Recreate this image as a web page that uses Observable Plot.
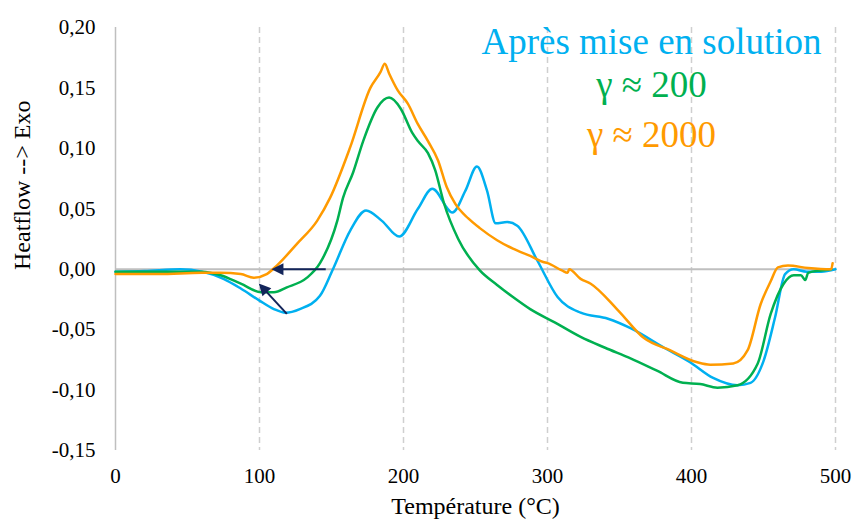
<!DOCTYPE html>
<html><head><meta charset="utf-8">
<script src="https://cdn.jsdelivr.net/npm/d3@7"></script>
<script src="https://cdn.jsdelivr.net/npm/@observablehq/plot@0.6"></script>
<style>body{margin:0;background:#fff}svg{display:block}svg text{font-family:"Liberation Serif","Times New Roman",serif}</style>
</head><body><div id="chart"></div>
<script>
const xTicks = [0, 100, 200, 300, 400, 500];
const yTicks = [-0.15, -0.10, -0.05, 0, 0.05, 0.10, 0.15, 0.20];
const gridX = [100, 200, 300, 400, 500];

const blueT = [0, 20, 45, 60, 75, 87, 100, 110, 118, 128, 142, 151, 163, 174, 185, 197, 210, 220, 234, 243, 251, 258, 264, 272, 279, 293, 307, 323, 342, 358, 381, 399, 415, 432, 441, 450, 458, 465, 471, 480, 490, 500];
const blueH = [-0.002, -0.0015, 0.0, -0.002, -0.008, -0.016, -0.026, -0.033, -0.036, -0.033, -0.022, 0.0, 0.032, 0.0486, 0.040, 0.027, 0.050, 0.0666, 0.047, 0.065, 0.085, 0.065, 0.038, 0.039, 0.036, 0.007, -0.023, -0.036, -0.041, -0.049, -0.065, -0.077, -0.090, -0.096, -0.094, -0.076, -0.040, -0.004, 0.0, -0.002, -0.002, 0.0];

const greenT = [0, 30, 60, 73, 87, 101, 110, 119, 133, 142, 154, 158, 165, 172, 182, 190, 198, 206, 210, 217, 222, 228, 238, 253, 265, 276, 288, 305, 323, 340, 358, 376, 394, 406, 418, 432, 446, 455, 464, 471, 476, 479, 481, 490, 497];
const greenH = [-0.002, -0.002, -0.002, -0.005, -0.012, -0.019, -0.019, -0.015, -0.007, 0.005, 0.040, 0.059, 0.080, 0.106, 0.134, 0.142, 0.133, 0.113, 0.106, 0.096, 0.082, 0.055, 0.025, -0.001, -0.013, -0.023, -0.033, -0.044, -0.056, -0.065, -0.074, -0.084, -0.094, -0.095, -0.098, -0.096, -0.078, -0.037, -0.012, -0.005, -0.005, -0.009, -0.003, -0.001, 0.0];

const orangeT = [0, 30, 60, 73, 87, 96, 105, 112, 126, 140, 149, 163, 177, 184, 187, 190, 196, 203, 210, 217, 224, 230, 236, 245, 253, 265, 276, 288, 297, 300, 310, 314, 315, 323, 330, 349, 367, 385, 404, 413, 429, 439, 448, 455, 460, 467, 481, 497, 498];
const orangeH = [-0.004, -0.004, -0.003, -0.003, -0.004, -0.007, -0.004, 0.003, 0.021, 0.040, 0.059, 0.101, 0.150, 0.163, 0.170, 0.162, 0.148, 0.137, 0.120, 0.106, 0.090, 0.068, 0.054, 0.042, 0.034, 0.024, 0.017, 0.011, 0.006, 0.005, -0.001, -0.003, 0.000, -0.008, -0.012, -0.034, -0.057, -0.067, -0.077, -0.079, -0.078, -0.067, -0.029, -0.010, 0.0015, 0.003, 0.001, 0.0, 0.005];

const arrowX1 = [146, 119];
const arrowY1 = [0, -0.037];
const arrowX2 = [112, 102];
const arrowY2 = [0, -0.015];

const legendLabels = ["Après mise en solution", "γ ≈ 200", "γ ≈ 2000"];
const colors = ["#00B0F0", "#00B050", "#FF9A00"];
const arrowColor = "#13255A";

const toPts = (T, H) => T.map((t, i) => ({x: t, y: H[i]}));
const blue = toPts(blueT, blueH);
const green = toPts(greenT, greenH);
const orange = toPts(orangeT, orangeH);
const arrows = arrowX1.map((x1, i) => ({x1, y1: arrowY1[i], x2: arrowX2[i], y2: arrowY2[i]}));
const fmt = d => d.toFixed(2).replace(".", ",");
const font = "Liberation Serif";

const chart = Plot.plot({
  width: 857, height: 527,
  marginLeft: 115, marginRight: 22, marginTop: 27, marginBottom: 77,
  style: {fontFamily: "'Liberation Serif', serif", fontSize: "21px", color: "#000", background: "#fff"},
  x: {domain: [0, 500]},
  y: {domain: [-0.15, 0.20]},
  marks: [
    Plot.ruleX(gridX, {stroke: "#cfcfcf", strokeWidth: 1.5, strokeDasharray: "6,4"}),
    Plot.ruleX([0], {stroke: "#bfbfbf", strokeWidth: 1.5}),
    Plot.ruleY([0], {stroke: "#bfbfbf", strokeWidth: 2}),
    Plot.axisX(xTicks, {tickSize: 0, tickPadding: 18, tickFormat: d => String(d), fontSize: 21, label: null}),
    Plot.axisY(yTicks, {tickSize: 0, tickPadding: 20, tickFormat: fmt, fontSize: 21, label: null}),
    Plot.line(blue, {x: "x", y: "y", stroke: colors[0], strokeWidth: 2.5, curve: "monotone-x"}),
    Plot.line(green, {x: "x", y: "y", stroke: colors[1], strokeWidth: 2.5, curve: "monotone-x"}),
    Plot.line(orange, {x: "x", y: "y", stroke: colors[2], strokeWidth: 2.5, curve: "monotone-x"}),
    Plot.link(arrows, {x1: "x1", y1: "y1", x2: "x2", y2: "y2", stroke: arrowColor, strokeWidth: 2, markerEnd: "arrow"}),
    Plot.text([legendLabels[0]], {frameAnchor: "top", dx: 176, dy: 0, text: d => d, fill: colors[0], fontSize: 37, textAnchor: "middle", fontFamily: font}),
    Plot.text([legendLabels[1]], {frameAnchor: "top", dx: 176, dy: 43, text: d => d, fill: colors[1], fontSize: 37, textAnchor: "middle", fontFamily: font}),
    Plot.text([legendLabels[2]], {frameAnchor: "top", dx: 176, dy: 93, text: d => d, fill: colors[2], fontSize: 37, textAnchor: "middle", fontFamily: font}),
    Plot.text(["Température (°C)"], {frameAnchor: "bottom", dy: 63, text: d => d, fontSize: 24, fill: "#000", fontFamily: font}),
    Plot.text(["Heatflow --> Exo"], {frameAnchor: "left", dx: -93, dy: 31, rotate: -90, text: d => d, fontSize: 24, fill: "#000", fontFamily: font})
  ]
});
chart.querySelectorAll("marker").forEach(m => {
  m.setAttribute("fill", arrowColor);
  m.setAttribute("stroke", "none");
  m.setAttribute("overflow", "visible");
  m.querySelectorAll("path").forEach(p => {
    p.setAttribute("d", "M-5,-4.5L4,0L-5,4.5Z");
    p.setAttribute("fill", arrowColor);
    p.setAttribute("stroke", "none");
  });
});
document.getElementById("chart").appendChild(chart);
</script>
</body></html>
